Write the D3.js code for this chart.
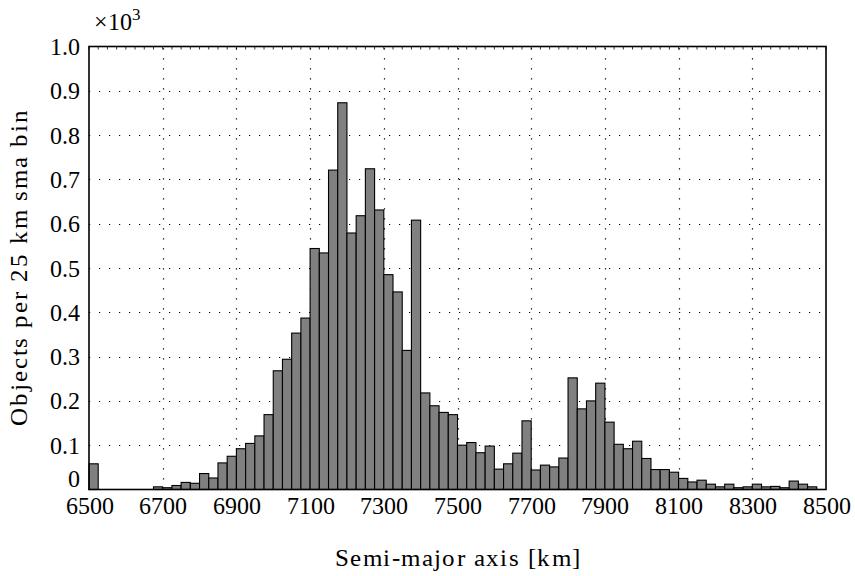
<!DOCTYPE html>
<html>
<head>
<meta charset="utf-8">
<script src="https://cdn.jsdelivr.net/npm/d3@7/dist/d3.min.js"></script>
<style>
  @font-face { font-family: "RefSerif"; src: local("Liberation Serif"), local("LiberationSerif"), local("LiberationSerif-Regular"), local("FreeSerif"); }
  svg text { font-family: "RefSerif", "Liberation Serif", "FreeSerif", "Times New Roman", "Noto Serif CJK SC" !important; }
</style>
</head>
<body style="margin:0">
<svg id="chart" width="855" height="576"></svg>
<script>
// ---- data (counts per 25 km bin, in units of 10^3) ----
const binStart = 6500;
const binWidth = 25;
const counts = [
  0.058, 0, 0, 0, 0, 0, 0, 0.006, 0.004, 0.009,
  0.016, 0.014, 0.036, 0.026, 0.060, 0.075, 0.092, 0.104, 0.121, 0.169,
  0.268, 0.294, 0.353, 0.387, 0.544, 0.534, 0.721, 0.873, 0.579, 0.618,
  0.724, 0.631, 0.485, 0.446, 0.314, 0.608, 0.218, 0.189, 0.174, 0.169,
  0.100, 0.106, 0.083, 0.098, 0.046, 0.058, 0.082, 0.155, 0.044, 0.055,
  0.051, 0.071, 0.252, 0.182, 0.200, 0.240, 0.152, 0.102, 0.092, 0.109,
  0.070, 0.045, 0.045, 0.039, 0.025, 0.017, 0.021, 0.012, 0.006, 0.012,
  0.004, 0.006, 0.012, 0.006, 0.007, 0.004, 0.019, 0.012, 0.006, 0
];
const xTicks = [6500, 6700, 6900, 7100, 7300, 7500, 7700, 7900, 8100, 8300, 8500];
const yTicks = [0, 0.1, 0.2, 0.3, 0.4, 0.5, 0.6, 0.7, 0.8, 0.9, 1.0];
const yTickLabels = ["0", "0.1", "0.2", "0.3", "0.4", "0.5", "0.6", "0.7", "0.8", "0.9", "1.0"];
const xLabel = "Semi-major axis [km]";
const yLabel = "Objects per 25 km sma bin";

const FONT = '"RefSerif", "Liberation Serif", "FreeSerif", serif';
const tickSize = 24;
const titleSize = 25;

// ---- layout ----
const L = 89, R = 826, T = 46.5, B = 489.5;
const svg = d3.select("#chart");
const x = d3.scaleLinear().domain([6500, 8500]).range([L, R]);
const y = d3.scaleLinear().domain([0, 1]).range([B, T]);

// grid
const grid = svg.append("g");
grid.selectAll("line.h").data(yTicks.filter(v => v > 0 && v < 1)).join("line")
  .attr("x1", L).attr("x2", R)
  .attr("y1", d => Math.round(y(d)) + 0.5).attr("y2", d => Math.round(y(d)) + 0.5)
  .attr("stroke", "#000").attr("stroke-width", 1.2)
  .attr("stroke-dasharray", "1.2,8.8");
grid.selectAll("line.v").data(xTicks.filter(v => v > 6500 && v < 8500)).join("line")
  .attr("y1", B).attr("y2", T)
  .attr("x1", d => Math.round(x(d)) + 0.5).attr("x2", d => Math.round(x(d)) + 0.5)
  .attr("stroke", "#000").attr("stroke-width", 1.2)
  .attr("stroke-dasharray", "1.2,8.8");

// bars
svg.append("g").selectAll("rect").data(counts).join("rect")
  .attr("x", (d, i) => x(binStart + i * binWidth))
  .attr("width", (d, i) => x(binStart + (i + 1) * binWidth) - x(binStart + i * binWidth))
  .attr("y", d => y(d))
  .attr("height", d => B - y(d))
  .attr("fill", "#808080")
  .attr("stroke", "#000")
  .attr("stroke-width", 1.1);

// minor ticks on top edge
const minor = d3.range(0, counts.length + 1).map(i => binStart + i * binWidth);
svg.append("g").selectAll("line").data(minor).join("line")
  .attr("x1", d => x(d)).attr("x2", d => x(d))
  .attr("y1", T).attr("y2", T + 3)
  .attr("stroke", "#000").attr("stroke-width", 0.8);

// frame
svg.append("rect")
  .attr("x", L).attr("y", T).attr("width", R - L).attr("height", B - T)
  .attr("fill", "none").attr("stroke", "#000").attr("stroke-width", 1.6);

// x axis labels
const gx = svg.append("g").attr("transform", `translate(0,${B})`)
  .call(d3.axisBottom(x).tickValues(xTicks).tickSize(0).tickPadding(0).tickFormat(d3.format("d")));
gx.attr("font-family", FONT).attr("font-size", tickSize);
gx.select(".domain").remove();
gx.selectAll("text").attr("dy", null).attr("y", 24).attr("fill", "#000")
  .style("font-size", tickSize + "px");

// y axis labels
const gy = svg.append("g").attr("transform", `translate(${L},0)`)
  .call(d3.axisLeft(y).tickValues(yTicks).tickSize(0).tickPadding(0).tickFormat((d, i) => yTickLabels[i]));
gy.attr("font-family", FONT).attr("font-size", tickSize);
gy.select(".domain").remove();
gy.selectAll("text").attr("x", -9).attr("dy", null)
  .attr("y", d => d === 0 ? -3 : 8).attr("fill", "#000")
  .style("font-size", tickSize + "px");

// exponent
const ex = svg.append("text").attr("x", 94).attr("y", 30)
  .attr("font-family", FONT).style("font-size", tickSize + "px").attr("fill", "#000");
ex.append("tspan").text("×10");
ex.append("tspan").attr("dy", -10).style("font-size", "17px").text("3");

// axis titles
svg.append("text")
  .attr("x", (L + R) / 2).attr("y", 566)
  .attr("text-anchor", "middle")
  .attr("font-family", FONT).style("font-size", titleSize + "px")
  .attr("textLength", 245).attr("lengthAdjust", "spacing")
  .attr("fill", "#000")
  .text(xLabel);

svg.append("text")
  .attr("transform", `translate(27,${(T + B) / 2}) rotate(-90)`)
  .attr("text-anchor", "middle")
  .attr("font-family", FONT).style("font-size", titleSize + "px")
  .attr("textLength", 316).attr("lengthAdjust", "spacing")
  .attr("fill", "#000")
  .text(yLabel);
</script>
</body>
</html>
